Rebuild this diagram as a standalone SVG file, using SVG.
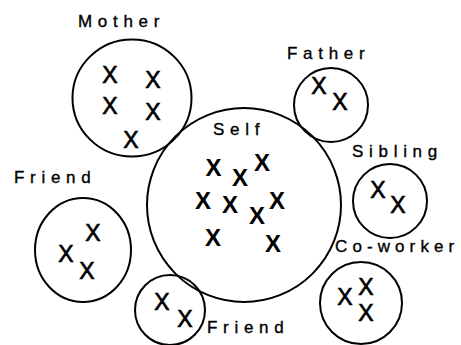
<svg xmlns="http://www.w3.org/2000/svg" width="461" height="345" viewBox="0 0 461 345">
<style>
.c{fill:none;stroke:#000;stroke-width:2}
.l{font-family:"Liberation Sans",Arial,sans-serif;font-size:17px;letter-spacing:5.7px;fill:#000;stroke:#000;stroke-width:0.35}
.x{font-family:"Liberation Sans",Arial,sans-serif;font-size:23px;text-anchor:middle;fill:#000;stroke:#000;stroke-width:0.7}
.xb{font-family:"Liberation Sans",Arial,sans-serif;font-size:24px;font-weight:bold;text-anchor:middle;fill:#000}
</style>
<rect width="461" height="345" fill="#fff"/>
<g id="mother">
<ellipse class="c" cx="132" cy="98" rx="59.5" ry="58.5"/>
<text class="l" x="78" y="27">Mother</text>
<text class="x" x="110" y="83">X</text>
<text class="x" x="153" y="88">X</text>
<text class="x" x="110" y="114">X</text>
<text class="x" x="153" y="120">X</text>
<text class="x" x="131" y="148">X</text>
</g>
<g id="self">
<circle class="c" cx="244" cy="205" r="97"/>
<text class="l" x="213" y="135">Self</text>
<text class="xb" x="213.5" y="175.5">X</text>
<text class="xb" x="240" y="185.5">X</text>
<text class="xb" x="262" y="170.5">X</text>
<text class="xb" x="203" y="208.5">X</text>
<text class="xb" x="230" y="212.5">X</text>
<text class="xb" x="277" y="208.5">X</text>
<text class="xb" x="257" y="223.5">X</text>
<text class="xb" x="213" y="245.5">X</text>
<text class="xb" x="273" y="251.5">X</text>
</g>
<g id="father">
<circle class="c" cx="331" cy="105" r="37"/>
<text class="l" x="287" y="59">Father</text>
<text class="x" x="319" y="94">X</text>
<text class="x" x="340" y="110">X</text>
</g>
<g id="sibling">
<circle class="c" cx="390" cy="201" r="37"/>
<text class="l" x="352" y="157">Sibling</text>
<text class="x" x="378" y="198">X</text>
<text class="x" x="398" y="213">X</text>
</g>
<g id="friend-left">
<ellipse class="c" cx="83" cy="250" rx="48" ry="52"/>
<text class="l" x="14" y="183">Friend</text>
<text class="x" x="93" y="241">X</text>
<text class="x" x="66" y="262">X</text>
<text class="x" x="87" y="279">X</text>
</g>
<g id="friend-bottom">
<circle class="c" cx="170" cy="310" r="35"/>
<text class="l" x="207" y="333">Friend</text>
<text class="x" x="162" y="310">X</text>
<text class="x" x="185" y="327">X</text>
</g>
<g id="coworker">
<circle class="c" cx="361" cy="303" r="41"/>
<text class="l" x="335" y="252" style="letter-spacing:5.1px">Co-worker</text>
<text class="x" x="345" y="305">X</text>
<text class="x" x="366" y="295">X</text>
<text class="x" x="366" y="321">X</text>
</g>
<g id="connectors"></g>
</svg>
